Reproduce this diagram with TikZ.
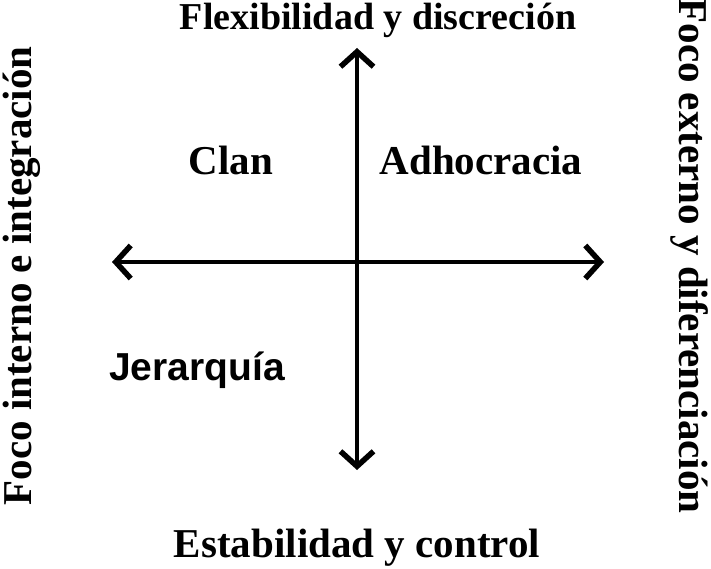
\documentclass[tikz,border=0pt]{standalone}
\usepackage{fontspec}
\setmainfont{Liberation Serif}
\newfontfamily\arialfont{Liberation Sans}
\usetikzlibrary{arrows.meta}
\tikzset{
  lbl/.style={font=\bfseries\fontsize{41}{43}\selectfont, inner sep=0pt},
  lbltop/.style={font=\bfseries\fontsize{38}{40}\selectfont, inner sep=0pt},
  lblsans/.style={font=\arialfont\bfseries\fontsize{39}{41}\selectfont, inner sep=0pt},
  axis/.style={line width=4pt, {Straight Barb[length=15pt,width=33pt,line width=5.5pt]}-{Straight Barb[length=15pt,width=33pt,line width=5.5pt]}}
}
\begin{document}
\begin{tikzpicture}[x=1pt,y=-1pt]
\useasboundingbox (0,0) rectangle (711,569);
\coordinate (top) at (357,48);
\coordinate (bot) at (357,470);
\coordinate (lft) at (112,262);
\coordinate (rgt) at (604,262);
\draw[axis] (top) -- (bot);
\draw[axis] (lft) -- (rgt);
\node[lbltop, anchor=base] (flex) at (378,30) {Flexibilidad y discreción};
\node[lbl, anchor=base] (estab) at (357,557) {Estabilidad y control};
\node[lbl, rotate=90] (interno) at (22,276) {Foco interno e integración};
\node[lbl, rotate=-90] (externo) at (689,256) {Foco externo y diferenciación};
\node[lbl] (clan) at (231,160) {Clan};
\node[lbl] (adho) at (481,160) {Adhocracia};
\node[lblsans, anchor=base] (jer) at (197,380) {Jerarquía};
\end{tikzpicture}
\end{document}
